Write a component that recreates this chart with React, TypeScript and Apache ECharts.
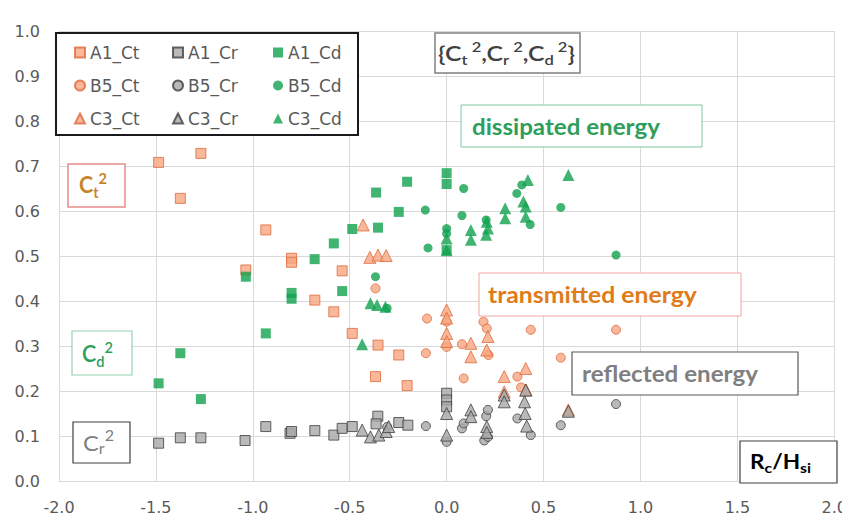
import React, { useEffect, useRef } from "react";
import * as echarts from "echarts";

type P = [number, number];

const xTicks = { min: -2, max: 2, step: 0.5 };
const yTicks = { min: 0, max: 1, step: 0.1 };

const A1_Ct: P[] = [
  [-1.486, 0.708], [-1.374, 0.628], [-1.268, 0.728], [-1.036, 0.469], [-0.933, 0.558],
  [-0.8, 0.495], [-0.8, 0.486], [-0.68, 0.402], [-0.582, 0.376], [-0.539, 0.467],
  [-0.487, 0.328], [-0.354, 0.302], [-0.367, 0.232], [-0.247, 0.28], [-0.204, 0.212],
];
const A1_Cr: P[] = [
  [-1.486, 0.084], [-1.374, 0.096], [-1.268, 0.096], [-1.04, 0.09], [-0.933, 0.121],
  [-0.808, 0.106], [-0.8, 0.11], [-0.68, 0.112], [-0.582, 0.102], [-0.539, 0.117],
  [-0.487, 0.121], [-0.355, 0.144], [-0.364, 0.127], [-0.247, 0.13], [-0.2, 0.124],
  [0, 0.195], [0, 0.18], [0, 0.165],
];
const A1_Cd: P[] = [
  [-1.486, 0.217], [-1.374, 0.284], [-1.268, 0.182], [-1.036, 0.454], [-0.933, 0.328],
  [-0.8, 0.418], [-0.8, 0.405], [-0.681, 0.493], [-0.582, 0.528], [-0.539, 0.422],
  [-0.487, 0.56], [-0.354, 0.563], [-0.364, 0.641], [-0.247, 0.598], [-0.204, 0.665],
  [0, 0.684], [0, 0.66], [0, 0.513],
];
const B5_Ct: P[] = [
  [-0.367, 0.428], [-0.101, 0.361], [-0.107, 0.284], [0, 0.354], [0, 0.298],
  [0.079, 0.304], [0.088, 0.228], [0.19, 0.354], [0.207, 0.339], [0.216, 0.28],
  [0.365, 0.232], [0.384, 0.208], [0.434, 0.336], [0.589, 0.274], [0.874, 0.336],
];
const B5_Cr: P[] = [
  [-0.307, 0.12], [-0.107, 0.122], [0, 0.087], [0.079, 0.117], [0.088, 0.128],
  [0.194, 0.09], [0.213, 0.098], [0.204, 0.144], [0.213, 0.158], [0.365, 0.139],
  [0.434, 0.102], [0.589, 0.124], [0.874, 0.171],
];
const B5_Cd: P[] = [
  [-0.367, 0.454], [-0.307, 0.384], [-0.11, 0.602], [-0.096, 0.518], [0, 0.561],
  [0, 0.55], [0.088, 0.65], [0.079, 0.59], [0.204, 0.58], [0.388, 0.658],
  [0.362, 0.639], [0.431, 0.57], [0.589, 0.608], [0.874, 0.502],
];
const C3_Ct: P[] = [
  [-0.431, 0.569], [-0.396, 0.497], [-0.354, 0.502], [-0.312, 0.501], [0, 0.38],
  [0, 0.362], [0, 0.328], [0, 0.31], [0.125, 0.306], [0.125, 0.276], [0.213, 0.321],
  [0.207, 0.291], [0.297, 0.232], [0.297, 0.198], [0.408, 0.25], [0.41, 0.202], [0.628, 0.158],
];
const C3_Cr: P[] = [
  [-0.436, 0.113], [-0.393, 0.098], [-0.35, 0.102], [-0.312, 0.11], [-0.299, 0.121],
  [0, 0.15], [0, 0.102], [0.125, 0.158], [0.125, 0.143], [0.207, 0.121], [0.207, 0.108],
  [0.297, 0.191], [0.297, 0.176], [0.408, 0.202], [0.402, 0.176], [0.405, 0.15],
  [0.413, 0.122], [0.628, 0.155],
];
const C3_Cd: P[] = [
  [-0.436, 0.304], [-0.393, 0.395], [-0.359, 0.391], [-0.316, 0.387], [0, 0.539],
  [0, 0.513], [0.125, 0.558], [0.125, 0.536], [0.207, 0.576], [0.213, 0.561],
  [0.204, 0.547], [0.302, 0.606], [0.302, 0.584], [0.419, 0.669], [0.396, 0.621],
  [0.408, 0.61], [0.408, 0.587], [0.628, 0.68],
];

const seriesNames = [
  "A1_Ct", "A1_Cr", "A1_Cd",
  "B5_Ct", "B5_Cr", "B5_Cd",
  "C3_Ct", "C3_Cr", "C3_Cd",
];
const seriesData: P[][] = [A1_Ct, A1_Cr, A1_Cd, B5_Ct, B5_Cr, B5_Cd, C3_Ct, C3_Cr, C3_Cd];

const AXFONT = "'DejaVu Sans', sans-serif";
const ANFONT = "Lato";

const kindStyle: Record<string, any> = {
  Ct: { color: "#F7A67F", borderColor: "#DE6A3C", borderWidth: 1 },
  Cr: { color: "#A8A8A8", borderColor: "#3F3F3F", borderWidth: 1 },
  Cd: { color: "#12A14F", borderColor: "#12A14F", borderWidth: 0 },
};
const groupSymbol: Record<string, [string, number]> = {
  A1: ["rect", 10],
  B5: ["circle", 9],
  C3: ["triangle", 12],
};

type Piece = [string, "b" | "sub" | "sup"];

let measureCtx: CanvasRenderingContext2D | null = null;
function measure(text: string, size: number, weight: string | number): number {
  if (!measureCtx) measureCtx = document.createElement("canvas").getContext("2d");
  if (!measureCtx) return text.length * size * 0.55;
  measureCtx.font = `${weight} ${size}px ${ANFONT}`;
  const w = measureCtx.measureText(text).width;
  return w > 0 ? w : text.length * size * 0.55;
}

function label(
  x: number, yc: number, targetW: number, pieces: Piece[],
  color: string, big: number, small: number, weight: string | number
) {
  let cx = 0;
  const children: any[] = [];
  pieces.forEach(([t, k]) => {
    const size = k === "b" ? big : small;
    const dy = k === "b" ? 0 : k === "sub" ? big * 0.3 : -big * 0.32;
    children.push({
      type: "text",
      x: cx,
      y: dy,
      z: 8,
      style: {
        text: t,
        fill: color,
        font: `${weight} ${size}px ${ANFONT}`,
        align: "left",
        verticalAlign: "middle",
      },
    });
    cx += measure(t, size, weight);
  });
  return {
    type: "group",
    x,
    y: yc,
    scaleX: targetW / cx,
    z: 8,
    children,
  };
}

export default function App() {
  const ref = useRef<HTMLDivElement>(null);

  useEffect(() => {
    if (!ref.current) return;
    const chart = echarts.init(ref.current, undefined, { renderer: "svg" });

    const series = seriesNames.map((name, i) => {
      const [g, k] = name.split("_");
      const [sym, size] = groupSymbol[g];
      return {
        name,
        type: "scatter",
        data: seriesData[i],
        symbol: sym,
        symbolSize: size,
        itemStyle: kindStyle[k],
        z: 3,
      };
    });

    const legendCols = [74, 172, 273];
    const legendRows = [44, 77, 110];
    const legends = seriesNames.map((name, i) => ({
      data: [name],
      left: legendCols[i % 3],
      top: legendRows[Math.floor(i / 3)],
      padding: 0,
      itemWidth: 10,
      itemHeight: 10,
      itemGap: 0,
      z: 10,
      selectedMode: false,
      textStyle: { color: "#595959", fontSize: 17, fontFamily: AXFONT },
    }));

    const box = (x: number, y: number, w: number, h: number, stroke: string, lw = 1.2) => ({
      type: "rect",
      shape: { x, y, width: w, height: h },
      style: { fill: "#ffffff", stroke, lineWidth: lw },
      z: 5,
    });

    const green = "#2E9E5B";
    const gray = "#7F7F7F";

    const graphic = [
      box(56, 33, 302, 102, "#1a1a1a", 2),
      box(435, 33, 145, 40, "#808080", 1.5),
      label(438, 53, 137, [
        ["{C", "b"], ["t", "sub"], [" 2", "sup"], [",C", "b"], ["r", "sub"], [" 2", "sup"],
        [",C", "b"], ["d", "sub"], [" 2", "sup"], ["}", "b"],
      ], "#404040", 21, 14, 600),
      box(461, 105, 241, 42, "#7CC79C", 1),
      label(472, 126, 188, [["dissipated energy", "b"]], green, 22, 14, "bold"),
      box(68, 164, 57, 43, "#E88A8A", 1.5),
      label(79, 185, 28, [["C", "b"], ["t", "sub"], ["2", "sup"]], "#C8842C", 22, 15, "bold"),
      box(479, 273, 262, 43, "#F2A5A5", 1),
      label(488, 295, 209, [["transmitted energy", "b"]], "#E07B1A", 22, 14, "bold"),
      box(572, 352, 226, 43, "#595959", 1.2),
      label(582, 373, 176, [["reflected energy", "b"]], gray, 22, 14, "bold"),
      box(72, 331, 60, 44, "#93D3AE", 1.2),
      label(82, 354, 31, [["C", "b"], ["d", "sub"], ["2", "sup"]], green, 22, 15, 600),
      box(73, 422, 57, 41, "#404040", 1.2),
      label(83, 442, 31, [["C", "b"], ["r", "sub"], ["2", "sup"]], gray, 22, 15, "normal"),
      box(740, 441, 97, 42, "#404040", 1.2),
      label(750, 461, 61, [["R", "b"], ["c", "sub"], ["/H", "b"], ["si", "sub"]], "#000000", 20, 14, "bold"),
    ];

    chart.setOption({
      animation: false,
      backgroundColor: "#ffffff",
      grid: { left: 59, right: 14, top: 31, bottom: 49, containLabel: false },
      xAxis: {
        type: "value",
        min: xTicks.min,
        max: xTicks.max,
        interval: xTicks.step,
        axisLine: { show: true, lineStyle: { color: "#D9D9D9" } },
        axisTick: { show: false },
        splitLine: { show: true, lineStyle: { color: "#D9D9D9", width: 1 } },
        axisLabel: {
          color: "#595959",
          fontSize: 16,
          fontFamily: AXFONT,
          margin: 18,
          formatter: (v: number) => v.toFixed(1),
        },
      },
      yAxis: {
        type: "value",
        min: yTicks.min,
        max: yTicks.max,
        interval: yTicks.step,
        axisLine: { show: false },
        axisTick: { show: false },
        splitLine: { show: true, lineStyle: { color: "#D9D9D9", width: 1 } },
        axisLabel: {
          color: "#595959",
          fontSize: 16,
          fontFamily: AXFONT,
          margin: 19,
          formatter: (v: number) => v.toFixed(1),
        },
      },
      legend: legends,
      graphic,
      series,
    });

    return () => chart.dispose();
  }, []);

  return <div ref={ref} style={{ width: 850, height: 530, margin: -8 }} />;
}
